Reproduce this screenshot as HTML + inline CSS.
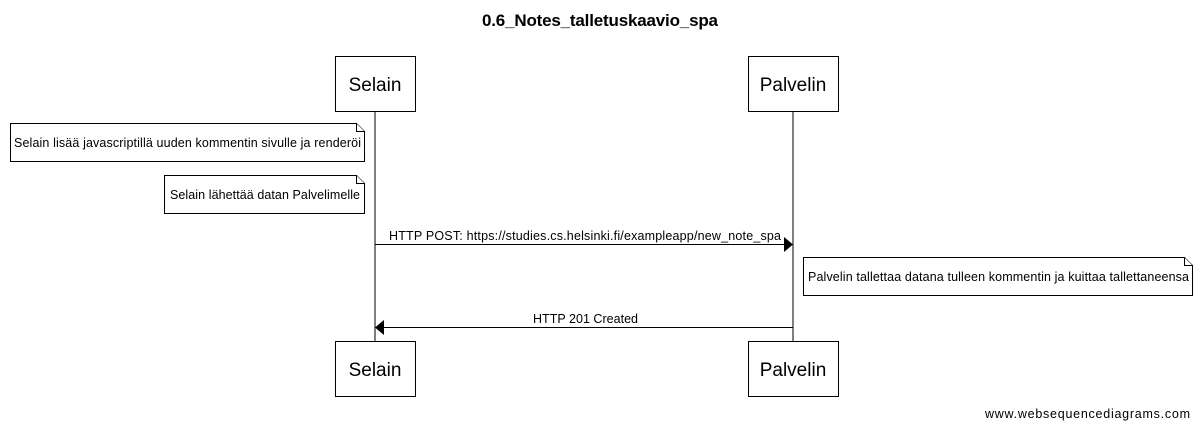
<!DOCTYPE html>
<html><head><meta charset="utf-8"><style>
body{margin:0;background:#fff;}
</style></head><body>
<svg width="1200" height="429" xmlns="http://www.w3.org/2000/svg" font-family="Liberation Sans, sans-serif">
<rect width="1200" height="429" fill="#fff"/>
<text x="600" y="26" text-anchor="middle" font-size="17" font-weight="bold" textLength="236">0.6_Notes_talletuskaavio_spa</text>
<line x1="375" y1="111" x2="375" y2="341" stroke="#000"/>
<line x1="793" y1="111" x2="793" y2="341" stroke="#000"/>
<g fill="#fff" stroke="#000">
<rect x="335.5" y="56.5" width="80" height="55"/>
<rect x="748.5" y="56.5" width="90" height="55"/>
<rect x="335.5" y="341.5" width="80" height="55"/>
<rect x="748.5" y="341.5" width="90" height="55"/>
<path d="M10.5 123.5H356.5L364.5 131.5V161.5H10.5Z"/>
<path d="M356.5 123.5V131.5H364.5"/>
<path d="M164.5 175.5H356.5L364.5 183.5V213.5H164.5Z"/>
<path d="M356.5 175.5V183.5H364.5"/>
<path d="M803.5 257.5H1184.5L1192.5 265.5V295.5H803.5Z"/>
<path d="M1184.5 257.5V265.5H1192.5"/>
</g>
<g font-size="19" text-anchor="middle">
<text x="375" y="91">Selain</text>
<text x="793" y="91">Palvelin</text>
<text x="375" y="376">Selain</text>
<text x="793" y="376">Palvelin</text>
</g>
<g font-size="12.5">
<text x="14" y="147" textLength="347">Selain lisää javascriptillä uuden kommentin sivulle ja renderöi</text>
<text x="170" y="199" textLength="190">Selain lähettää datan Palvelimelle</text>
<text x="808" y="281" textLength="381">Palvelin tallettaa datana tulleen kommentin ja kuittaa tallettaneensa</text>
<text x="389" y="240" textLength="392">HTTP POST: https://studies.cs.helsinki.fi/exampleapp/new_note_spa</text>
<text x="533" y="323" textLength="105">HTTP 201 Created</text>
<text x="985" y="418" textLength="205">www.websequencediagrams.com</text>
</g>
<line x1="375" y1="244.5" x2="784" y2="244.5" stroke="#000"/>
<path d="M784 237L793 244.5L784 252Z"/>
<line x1="384" y1="327.5" x2="793" y2="327.5" stroke="#000"/>
<path d="M384 320L375 327.5L384 335Z"/>
</svg>
</body></html>
